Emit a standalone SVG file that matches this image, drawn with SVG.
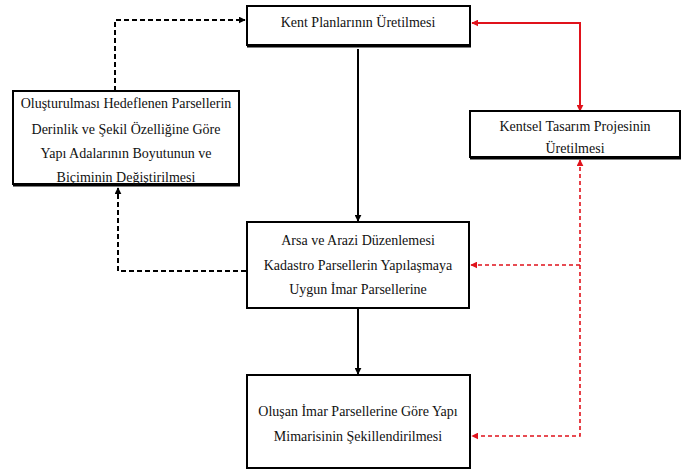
<svg xmlns="http://www.w3.org/2000/svg" width="682" height="476" viewBox="0 0 682 476">
<defs>
<marker id="ab" viewBox="0 0 10 10" refX="9" refY="5" markerWidth="7" markerHeight="7" markerUnits="userSpaceOnUse" orient="auto-start-reverse"><path d="M0,0 L10,5 L0,10 z" fill="#000"/></marker>
<marker id="ar" viewBox="0 0 10 10" refX="9" refY="5" markerWidth="7" markerHeight="7" markerUnits="userSpaceOnUse" orient="auto-start-reverse"><path d="M0,0 L10,5 L0,10 z" fill="#e0121b"/></marker>
</defs>
<style>
.box{fill:#fff;stroke:#000;stroke-width:2}
.sh{stroke:#000;stroke-width:2;fill:none}
.t{font-family:"Liberation Serif","DejaVu Serif",serif;font-size:14px;fill:#111;text-anchor:middle}
.blk{stroke:#000;stroke-width:2;fill:none}
.dsh{stroke:#000;stroke-width:2;fill:none;stroke-dasharray:5,3}
.red{stroke:#e0121b;stroke-width:2;fill:none}
.rdsh{stroke:#e0121b;stroke-width:1.6;fill:none;stroke-dasharray:4,3}
</style>
<rect width="682" height="476" fill="#fff"/>
<g id="connectors">
<polyline class="dsh" points="115,91 115,20 245,20" marker-end="url(#ab)"/>
<line class="blk" x1="358" y1="49" x2="358" y2="221" marker-end="url(#ab)"/>
<polyline class="dsh" points="246,271 118,271 118,188" marker-end="url(#ab)"/>
<line class="blk" x1="358" y1="308" x2="358" y2="374" marker-end="url(#ab)"/>
<polyline class="red" points="472,23 580,23 580,111" marker-start="url(#ar)" marker-end="url(#ar)"/>
<polyline class="rdsh" points="580,160 580,436 472,436" marker-start="url(#ar)" marker-end="url(#ar)"/>
<line class="rdsh" x1="580" y1="265" x2="471" y2="265" marker-end="url(#ar)"/>
</g>
<g id="kent-planlari">
<rect class="box" x="247" y="6" width="223" height="39"/>
<line class="sh" x1="247" y1="46.5" x2="471" y2="46.5"/>
<text class="t" x="358" y="27">Kent Planlarının Üretilmesi</text>
</g>
<g id="yapi-adalari">
<rect class="box" x="13" y="91" width="226" height="93"/>
<line class="sh" x1="13" y1="185.5" x2="240" y2="185.5"/>
<text class="t" x="126" y="108">Oluşturulması Hedeflenen Parsellerin</text>
<text class="t" x="126" y="134">Derinlik ve Şekil Özelliğine Göre</text>
<text class="t" x="126" y="158">Yapı Adalarının Boyutunun ve</text>
<text class="t" x="126" y="182">Biçiminin Değiştirilmesi</text>
</g>
<g id="kentsel-tasarim">
<rect class="box" x="470" y="111" width="210" height="46"/>
<line class="sh" x1="470" y1="158.5" x2="681" y2="158.5"/>
<text class="t" x="575" y="131">Kentsel Tasarım Projesinin</text>
<text class="t" x="575" y="153">Üretilmesi</text>
</g>
<g id="arsa-arazi">
<rect class="box" x="247" y="222" width="222" height="86"/>
<text class="t" x="358" y="245">Arsa ve Arazi Düzenlemesi</text>
<text class="t" x="358" y="270">Kadastro Parsellerin Yapılaşmaya</text>
<text class="t" x="358" y="294">Uygun İmar Parsellerine</text>
</g>
<g id="yapi-mimarisi">
<rect class="box" x="247" y="375" width="223" height="93"/>
<text class="t" x="358" y="416">Oluşan İmar Parsellerine Göre Yapı</text>
<text class="t" x="358" y="441">Mimarisinin Şekillendirilmesi</text>
</g>
</svg>
